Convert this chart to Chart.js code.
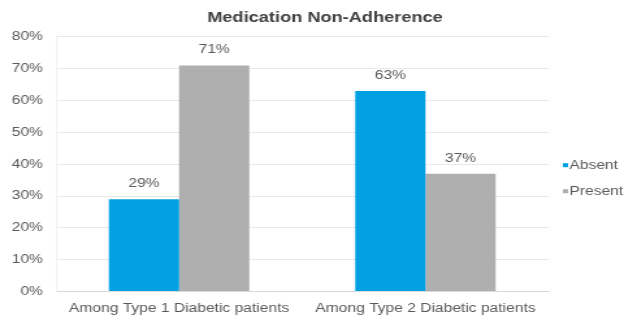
<!DOCTYPE html>
<html><head><meta charset="utf-8">
<script src="https://cdn.jsdelivr.net/npm/chart.js@4"></script>
<style>
html,body{margin:0;padding:0;background:#fff;overflow:hidden;width:629px;height:320px}
#wrap{width:484px;height:320px;transform:scaleX(1.3);transform-origin:0 0}
</style>
</head><body><div id="wrap"><canvas id="c" width="484" height="320"></canvas></div>
<script>
const categories = ["Among Type 1 Diabetic patients", "Among Type 2 Diabetic patients"];
const absentValues = [29, 63];
const presentValues = [71, 37];
const seriesNames = ["Absent", "Present"];
const seriesColors = ["#00a0e3", "#afafaf"];
const titleText = "Medication Non-Adherence";
const FONT = '"Liberation Sans", Arial, sans-serif';

const labelPlugin = {
  id: 'vlabels',
  afterDatasetsDraw(chart) {
    const ctx = chart.ctx;
    ctx.save();
    ctx.font = '12px ' + FONT;
    ctx.fillStyle = '#595959';
    ctx.textAlign = 'center';
    ctx.textBaseline = 'middle';
    chart.data.datasets.forEach((ds, i) => {
      chart.getDatasetMeta(i).data.forEach((bar, j) => {
        ctx.fillText(ds.data[j] + '%', bar.x, bar.y - 15.5);
      });
    });
    ctx.restore();
  }
};

const legendPlugin = {
  id: 'sideLegend',
  afterDraw(chart) {
    const ctx = chart.ctx;
    const a = chart.chartArea;
    const cy = (a.top + a.bottom) / 2;
    ctx.save();
    ctx.font = '12px ' + FONT;
    ctx.textBaseline = 'middle';
    ctx.textAlign = 'left';
    chart.data.datasets.forEach((ds, i) => {
      const y = cy + 1 + i * 26;
      const x = a.right + 11;
      ctx.fillStyle = ds.backgroundColor;
      ctx.fillRect(x, y - 2, 4, 4);
      ctx.fillStyle = '#595959';
      ctx.fillText(ds.label, x + 5, y);
    });
    ctx.restore();
  }
};

new Chart(document.getElementById('c'), {
  type: 'bar',
  data: {
    labels: categories,
    datasets: [
      { label: seriesNames[0], data: absentValues, backgroundColor: seriesColors[0] },
      { label: seriesNames[1], data: presentValues, backgroundColor: seriesColors[1] }
    ]
  },
  options: {
    responsive: false,
    animation: false,
    devicePixelRatio: 1,
    layout: { padding: { left: 9, right: -7, top: 10, bottom: -6 } },
    datasets: { bar: { categoryPercentage: 0.57, barPercentage: 1 } },
    plugins: {
      title: {
        display: true, text: titleText, color: '#404040',
        font: { family: FONT, size: 14, weight: 'bold' },
        padding: { top: 0, bottom: 10 }
      },
      legend: { display: false },
      tooltip: { enabled: false }
    },
    scales: {
      x: {
        grid: { display: false, drawTicks: false },
        border: { color: '#d9d9d9' },
        ticks: { color: '#595959', font: { family: FONT, size: 12 }, padding: 10,
                 maxRotation: 0, minRotation: 0, autoSkip: false },
        afterFit(s) { s.paddingLeft = 0; s.paddingRight = 0; }
      },
      y: {
        min: 0, max: 80,
        grid: { color: '#e8e8e8', drawTicks: false },
        border: { display: true, color: '#f2f2f2' },
        ticks: {
          stepSize: 10, color: '#595959', padding: 10,
          font: { family: FONT, size: 12 },
          callback: v => v + '%'
        },
        afterFit(s) { s.width = 34; }
      },
      legendSpace: {
        type: 'linear', position: 'right', display: true,
        grid: { display: false }, border: { display: false },
        ticks: { display: false },
        afterFit(s) { s.width = 69; }
      }
    }
  },
  plugins: [labelPlugin, legendPlugin]
});
</script>
</body></html>
